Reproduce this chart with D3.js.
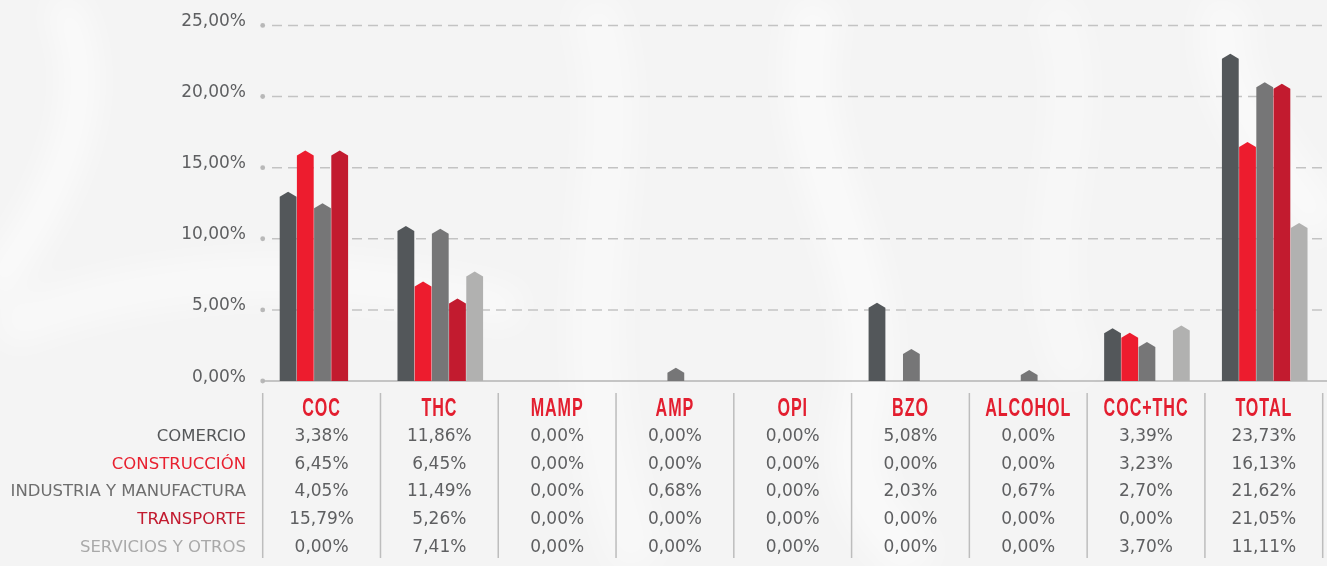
<!DOCTYPE html>
<html>
<head>
<meta charset="utf-8">
<script src="https://cdn.jsdelivr.net/npm/d3@7"></script>
<style>
  html, body { margin: 0; padding: 0; background: #f6f6f6; }
  svg { display: block; }
</style>
</head>
<body>
<svg id="chart"></svg>
<script>
// categories along the bottom
var categories = ["COC", "THC", "MAMP", "AMP", "OPI", "BZO", "ALCOHOL", "COC+THC", "TOTAL"]

// sectors (one bar per sector inside each group)
var sectors = ["COMERCIO", "CONSTRUCCIÓN", "INDUSTRIA Y MANUFACTURA", "TRANSPORTE", "SERVICIOS Y OTROS"]

// bar heights as drawn in the picture (percent), one array per sector
var comercio     = [13.3, 10.9, 0, 0,    0, 5.5,  0,    3.7,  23.0]
var construccion = [16.2, 7.0,  0, 0,    0, 0,    0,    3.4,  16.8]
var industria    = [12.5, 10.7, 0, 0.93, 0, 2.25, 0.77, 2.75, 21.0]
var transporte   = [16.2, 5.8,  0, 0,    0, 0,    0,    0,    20.9]
var servicios    = [0,    7.7,  0, 0,    0, 0,    0,    3.9,  11.1]

// table text under the chart
var tblComercio     = ["3,38%", "11,86%", "0,00%", "0,00%", "0,00%", "5,08%", "0,00%", "3,39%", "23,73%"]
var tblConstruccion = ["6,45%", "6,45%",  "0,00%", "0,00%", "0,00%", "0,00%", "0,00%", "3,23%", "16,13%"]
var tblIndustria    = ["4,05%", "11,49%", "0,00%", "0,68%", "0,00%", "2,03%", "0,67%", "2,70%", "21,62%"]
var tblTransporte   = ["15,79%", "5,26%", "0,00%", "0,00%", "0,00%", "0,00%", "0,00%", "0,00%", "21,05%"]
var tblServicios    = ["0,00%", "7,41%",  "0,00%", "0,00%", "0,00%", "0,00%", "0,00%", "3,70%", "11,11%"]

var yTicks = [0, 5, 10, 15, 20, 25]

var barValues = [comercio, construccion, industria, transporte, servicios]
var tableValues = [tblComercio, tblConstruccion, tblIndustria, tblTransporte, tblServicios]

var barColors = ["#53575a", "#ed1c2e", "#767677", "#c21b2f", "#b1b1b0"]
var labelColors = ["#555759", "#e8202f", "#6e6e6e", "#c21b2f", "#a9a9a9"]

var screen = {width: 1327, height: 566}

var svg = d3.select("#chart")
    .attr("width", screen.width)
    .attr("height", screen.height)

// soft smoky background
var defs = svg.append("defs")
defs.append("filter").attr("id", "blur")
    .attr("x", "-50%").attr("y", "-50%").attr("width", "200%").attr("height", "200%")
    .append("feGaussianBlur").attr("stdDeviation", 16)

svg.append("rect")
    .attr("width", screen.width)
    .attr("height", screen.height)
    .attr("fill", "#f4f4f4")

var smoke = svg.append("g").attr("filter", "url(#blur)").attr("fill", "none").attr("stroke", "#ffffff")
smoke.append("path").attr("d", "M60,0 C110,90 60,200 -10,290").attr("stroke-width", 30).attr("opacity", 0.7)
smoke.append("path").attr("d", "M0,330 C150,270 320,260 520,310").attr("stroke-width", 40).attr("opacity", 0.5)
smoke.append("path").attr("d", "M590,0 C650,160 540,300 640,566").attr("stroke-width", 50).attr("opacity", 0.45)
smoke.append("path").attr("d", "M820,0 C770,150 900,260 860,420 C840,500 900,540 920,566").attr("stroke-width", 50).attr("opacity", 0.55)
smoke.append("path").attr("d", "M1050,0 C1110,120 1010,240 1080,380").attr("stroke-width", 40).attr("opacity", 0.4)
smoke.append("path").attr("d", "M1230,0 C1200,80 1290,180 1327,230").attr("stroke-width", 50).attr("opacity", 0.5)

// scales
var x0 = d3.scaleBand()
    .domain(categories)
    .range([262.7, 1322.7])

var x1 = d3.scaleBand()
    .domain(d3.range(sectors.length))
    .range([17, 17 + 86])

var yScale = d3.scaleLinear()
    .domain([0, 25])
    .range([381, 25.4])

// gridlines
var grid = svg.append("g")
grid.selectAll("line.grid")
    .data(yTicks.filter(function(d){ return d > 0 }))
    .enter()
    .append("line")
    .attr("class", "grid")
    .attr("x1", 272)
    .attr("x2", screen.width)
    .attr("y1", function(d){ return yScale(d) })
    .attr("y2", function(d){ return yScale(d) })
    .attr("stroke", "#c3c3c3")
    .attr("stroke-width", 1.5)
    .attr("stroke-dasharray", "10,6")

grid.selectAll("circle")
    .data(yTicks)
    .enter()
    .append("circle")
    .attr("cx", 262.7)
    .attr("cy", function(d){ return yScale(d) })
    .attr("r", 2.4)
    .attr("fill", "#b8b8b8")

grid.selectAll("text")
    .data(yTicks)
    .enter()
    .append("text")
    .attr("x", 246)
    .attr("y", function(d){ return yScale(d) + 0.5 })
    .attr("text-anchor", "end")
    .attr("font-family", "DejaVu Sans")
    .attr("font-size", 17)
    .attr("fill", "#5e5f61")
    .text(function(d){ return d3.format(".2f")(d).replace(".", ",") + "%" })

// baseline
svg.append("line")
    .attr("x1", 262.7)
    .attr("x2", screen.width)
    .attr("y1", yScale(0))
    .attr("y2", yScale(0))
    .attr("stroke", "#b5b5b5")
    .attr("stroke-width", 1.5)

// bars with a pointed top
var tip = 5
var barPath = function(x, w, v)
{
    var top = yScale(v)
    var base = yScale(0)
    return "M" + x + "," + base +
        "L" + x + "," + (top + tip) +
        "L" + (x + w / 2) + "," + top +
        "L" + (x + w) + "," + (top + tip) +
        "L" + (x + w) + "," + base + "Z"
}

var barData = []
categories.forEach(function(c, ci){
    barValues.forEach(function(arr, si){
        if (arr[ci] > 0) barData.push({cat: c, s: si, v: arr[ci]})
    })
})

svg.append("g")
    .selectAll("path")
    .data(barData)
    .enter()
    .append("path")
    .attr("d", function(d){ return barPath(x0(d.cat) + x1(d.s), x1.bandwidth() - 0.4, d.v) })
    .attr("fill", function(d){ return barColors[d.s] })

// table
var table = svg.append("g")

table.selectAll("line.sep")
    .data(categories.concat(["end"]))
    .enter()
    .append("line")
    .attr("class", "sep")
    .attr("x1", function(d, i){ return 262.7 + i * x0.bandwidth() })
    .attr("x2", function(d, i){ return 262.7 + i * x0.bandwidth() })
    .attr("y1", 393)
    .attr("y2", 558)
    .attr("stroke", "#bdbdbd")
    .attr("stroke-width", 1.5)

table.selectAll("text.head")
    .data(categories)
    .enter()
    .append("text")
    .attr("class", "head")
    .attr("transform", function(d){ return "translate(" + (x0(d) + x0.bandwidth() / 2) + ",416) scale(0.62,1)" })
    .attr("text-anchor", "middle")
    .attr("font-family", "Liberation Sans")
    .attr("font-weight", "bold")
    .attr("font-size", 26)
    .attr("letter-spacing", 1.5)
    .attr("fill", "#e31e2f")
    .text(function(d){ return d })

var rowY = [441, 468.5, 496, 523.7, 551.5]

table.selectAll("text.row")
    .data(sectors)
    .enter()
    .append("text")
    .attr("class", "row")
    .attr("x", 246)
    .attr("y", function(d, i){ return rowY[i] })
    .attr("text-anchor", "end")
    .attr("font-family", "DejaVu Sans")
    .attr("font-size", 16.5)
    .attr("fill", function(d, i){ return labelColors[i] })
    .text(function(d){ return d })

tableValues.forEach(function(arr, si){
    table.append("g")
        .selectAll("text")
        .data(arr)
        .enter()
        .append("text")
        .attr("x", function(d, ci){ return x0(categories[ci]) + x0.bandwidth() / 2 })
        .attr("y", rowY[si])
        .attr("text-anchor", "middle")
        .attr("font-family", "DejaVu Sans")
        .attr("font-size", 17)
        .attr("fill", "#5e5f61")
        .text(function(d){ return d })
})
</script>
</body>
</html>
